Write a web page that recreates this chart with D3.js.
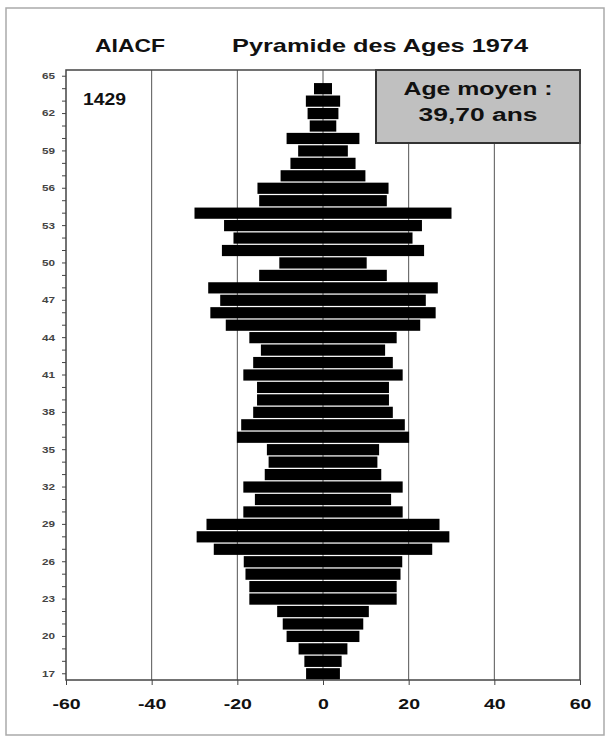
<!DOCTYPE html>
<html>
<head>
<meta charset="utf-8">
<script src="https://cdn.jsdelivr.net/npm/d3@7"></script>
<style>
  html, body { margin: 0; padding: 0; background: #fff; }
  svg { display: block; }
  text { font-family: "Liberation Sans", Arial, sans-serif; }
</style>
</head>
<body>
<svg id="chart" width="607" height="740"></svg>
<script>
// ---- data ----
const axisAges = [65,64,63,62,61,60,59,58,57,56,55,54,53,52,51,50,49,48,47,46,45,44,43,42,41,40,
                  39,38,37,36,35,34,33,32,31,30,29,28,27,26,25,24,23,22,21,20,19,18,17];
const ages = [64,63,62,61,60,59,58,57,56,55,54,53,52,51,50,49,48,47,46,45,44,43,42,41,40,
              39,38,37,36,35,34,33,32,31,30,29,28,27,26,25,24,23,22,21,20,19,18,17];
// half of each age group, drawn on both sides of zero
const halfCounts = [2.1,4.0,3.6,3.1,8.5,5.8,7.6,9.9,15.3,14.9,30.0,23.1,20.9,23.6,10.2,14.9,26.8,24.0,26.3,22.7,
                    17.2,14.5,16.3,18.6,15.4,15.4,16.3,19.1,20.1,13.1,12.7,13.6,18.6,15.9,18.6,27.2,29.5,25.5,
                    18.5,18.1,17.2,17.2,10.7,9.4,8.5,5.7,4.35,3.95];
const xTicks = [-60,-40,-20,0,20,40,60];
const gridTicks = [-40,-20,0,20,40];
const yLabelAges = [65,62,59,56,53,50,47,44,41,38,35,32,29,26,23,20,17];
const titleLeft = "AIACF";
const titleMain = "Pyramide des Ages 1974";
const totalLabel = "1429";
const meanLines = ["Age moyen :", "39,70 ans"];

// ---- layout ----
const svg = d3.select("#chart");
const plot = {left: 66, right: 580, top: 70, bottom: 680};
const x = d3.scaleLinear().domain([-60, 60]).range([plot.left, plot.right]);
const y = d3.scaleBand().domain(axisAges).range([plot.top, plot.bottom]).paddingInner(0.1).paddingOuter(0.05);
const STRETCH = 1.3;

function stretch(sel, factor) {
  sel.each(function() {
    const w = this.getComputedTextLength();
    d3.select(this).attr("textLength", w * factor).attr("lengthAdjust", "spacingAndGlyphs");
  });
}

// outer frame
svg.append("rect").attr("x", 6).attr("y", 8).attr("width", 598).attr("height", 727)
  .attr("fill", "#fff").attr("stroke", "#aaa").attr("stroke-width", 1.5);

// titles
svg.append("text").attr("x", 95).attr("y", 52).attr("font-size", 19).attr("font-weight", "bold")
  .attr("fill", "#111").attr("textLength", 70).attr("lengthAdjust", "spacingAndGlyphs").text(titleLeft);
svg.append("text").attr("x", 232).attr("y", 52).attr("font-size", 19).attr("font-weight", "bold")
  .attr("fill", "#111").attr("textLength", 296).attr("lengthAdjust", "spacingAndGlyphs").text(titleMain);

// plot background
svg.append("rect").attr("x", plot.left).attr("y", plot.top)
  .attr("width", plot.right - plot.left).attr("height", plot.bottom - plot.top).attr("fill", "#fff");

// gridlines
svg.append("g").selectAll("line").data(gridTicks).join("line")
  .attr("x1", d => x(d)).attr("x2", d => x(d)).attr("y1", plot.top).attr("y2", plot.bottom)
  .attr("stroke", "#555").attr("stroke-width", 1);

// bars
svg.append("g").selectAll("rect").data(ages.map((a, i) => ({age: a, v: halfCounts[i]}))).join("rect")
  .attr("x", d => x(-d.v)).attr("width", d => x(d.v) - x(-d.v))
  .attr("y", d => y(d.age)).attr("height", y.bandwidth())
  .attr("fill", "#000");

// mean age box
const box = svg.append("g");
box.append("rect").attr("x", 376).attr("y", plot.top).attr("width", plot.right - 376).attr("height", 73)
  .attr("fill", "#c0c0c0").attr("stroke", "#333").attr("stroke-width", 2);
box.append("text").attr("x", 478).attr("y", 95).attr("text-anchor", "middle").attr("font-size", 18)
  .attr("font-weight", "bold").attr("fill", "#111")
  .attr("textLength", 149).attr("lengthAdjust", "spacingAndGlyphs").text(meanLines[0]);
box.append("text").attr("x", 478).attr("y", 121).attr("text-anchor", "middle").attr("font-size", 18)
  .attr("font-weight", "bold").attr("fill", "#111")
  .attr("textLength", 119).attr("lengthAdjust", "spacingAndGlyphs").text(meanLines[1]);

// total
svg.append("text").attr("x", 83).attr("y", 105).attr("font-size", 17).attr("font-weight", "bold")
  .attr("fill", "#111").attr("textLength", 43).attr("lengthAdjust", "spacingAndGlyphs").text(totalLabel);

// plot frame
svg.append("rect").attr("x", plot.left).attr("y", plot.top)
  .attr("width", plot.right - plot.left).attr("height", plot.bottom - plot.top)
  .attr("fill", "none").attr("stroke", "#444").attr("stroke-width", 1.5);

// x axis
const xAxis = svg.append("g").attr("transform", `translate(0,${plot.bottom})`)
  .call(d3.axisBottom(x).tickValues(xTicks).tickSize(5).tickPadding(13).tickFormat(d3.format("d")));
xAxis.select(".domain").remove();
xAxis.selectAll(".tick line").attr("stroke", "#444");
xAxis.selectAll(".tick text").attr("font-size", 15).attr("font-weight", "bold").attr("fill", "#111")
  .attr("font-family", "Liberation Sans, Arial, sans-serif")
  .text(d => d < 0 ? "-" + Math.abs(d) : d);
stretch(xAxis.selectAll(".tick text"), STRETCH);

// y axis
const yAxis = svg.append("g").attr("transform", `translate(${plot.left},0)`)
  .call(d3.axisLeft(y).tickSize(4).tickPadding(7)
    .tickFormat(d => yLabelAges.includes(d) ? d : ""));
yAxis.select(".domain").remove();
yAxis.selectAll(".tick line").attr("stroke", "#444");
yAxis.selectAll(".tick text").attr("font-size", 9).attr("font-weight", "bold").attr("fill", "#444")
  .attr("font-family", "Liberation Sans, Arial, sans-serif");
stretch(yAxis.selectAll(".tick text").filter(d => yLabelAges.includes(d)), STRETCH);
</script>
</body>
</html>
